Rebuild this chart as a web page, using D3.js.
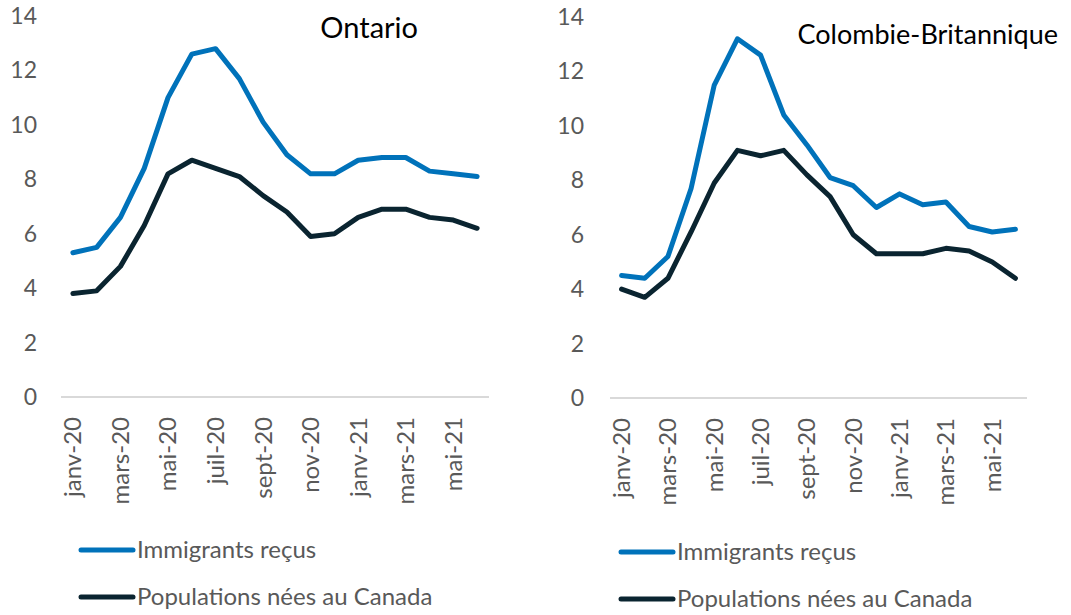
<!DOCTYPE html>
<html>
<head>
<meta charset="utf-8">
<script src="https://cdn.jsdelivr.net/npm/d3@7"></script>
<style>
  body { margin: 0; background: #fff; }
  svg text { font-family: Lato, "Open Sans", sans-serif; }
</style>
</head>
<body>
<svg id="chart" width="1071" height="615"></svg>
<script>
const months = ["janv-20", "févr-20", "mars-20", "avr-20", "mai-20", "juin-20", "juil-20", "août-20", "sept-20",
  "oct-20", "nov-20", "déc-20", "janv-21", "févr-21", "mars-21", "avr-21", "mai-21", "juin-21"];
const yTicks = [0, 2, 4, 6, 8, 10, 12, 14];
const seriesNames = ["Immigrants reçus", "Populations nées au Canada"];
const seriesColors = ["#0072BA", "#0A2430"];

const ontarioImmigrants = [5.3, 5.5, 6.6, 8.4, 11.0, 12.6, 12.8, 11.7, 10.1, 8.9, 8.2, 8.2, 8.7, 8.8, 8.8, 8.3, 8.2, 8.1];
const ontarioCanadaBorn = [3.8, 3.9, 4.8, 6.3, 8.2, 8.7, 8.4, 8.1, 7.4, 6.8, 5.9, 6.0, 6.6, 6.9, 6.9, 6.6, 6.5, 6.2];
const bcImmigrants = [4.5, 4.4, 5.2, 7.7, 11.5, 13.2, 12.6, 10.4, 9.3, 8.1, 7.8, 7.0, 7.5, 7.1, 7.2, 6.3, 6.1, 6.2];
const bcCanadaBorn = [4.0, 3.7, 4.4, 6.1, 7.9, 9.1, 8.9, 9.1, 8.2, 7.4, 6.0, 5.3, 5.3, 5.3, 5.5, 5.4, 5.0, 4.4];

const svg = d3.select("#chart");

function drawPanel(opts) {
  const g = svg.append("g");
  const x = d3.scaleBand().domain(months).range([opts.left, opts.right]);
  const y = d3.scaleLinear().domain([0, 14]).range([opts.bottom, opts.top]);

  // y labels, no axis line
  g.selectAll(".ylab")
    .data(yTicks)
    .enter().append("text")
    .attr("x", opts.labelX)
    .attr("y", d => y(d))
    .attr("dy", "0.35em")
    .attr("text-anchor", "end")
    .attr("font-size", 23)
    .attr("fill", "#595959")
    .text(d => d);

  // zero line
  g.append("line")
    .attr("x1", opts.left).attr("x2", opts.right)
    .attr("y1", y(0)).attr("y2", y(0))
    .attr("stroke", "#d9d9d9").attr("stroke-width", 2);

  // x labels every two months
  g.selectAll(".xlab")
    .data(months.filter((m, i) => i % 2 === 0))
    .enter().append("text")
    .attr("transform", d => "translate(" + (x(d) + x.bandwidth() / 2) + "," + (y(0) + 20) + ") rotate(-90)")
    .attr("dy", "0.35em")
    .attr("text-anchor", "end")
    .attr("font-size", 24)
    .attr("fill", "#595959")
    .text(d => d);

  const line = d3.line()
    .x((d, i) => x(months[i]) + x.bandwidth() / 2)
    .y(d => y(d));

  opts.series.forEach((s, i) => {
    g.append("path")
      .datum(s)
      .attr("fill", "none")
      .attr("stroke", seriesColors[i])
      .attr("stroke-width", 5)
      .attr("stroke-linejoin", "round")
      .attr("stroke-linecap", "round")
      .attr("d", line);
  });

  g.append("text")
    .attr("x", opts.titleX)
    .attr("y", opts.titleY)
    .attr("text-anchor", "end")
    .attr("font-size", opts.titleSize)
    .attr("fill", "#000")
    .text(opts.title);

  // legend
  seriesNames.forEach((name, i) => {
    const ly = opts.legendY + i * 47;
    g.append("line")
      .attr("x1", opts.legendX).attr("x2", opts.legendX + 52)
      .attr("y1", ly).attr("y2", ly)
      .attr("stroke", seriesColors[i]).attr("stroke-width", 5)
      .attr("stroke-linecap", "round");
    g.append("text")
      .attr("x", opts.legendX + 56)
      .attr("y", ly)
      .attr("dy", "0.35em")
      .attr("font-size", 24)
      .attr("fill", "#595959")
      .text(name);
  });
}

drawPanel({
  left: 61, right: 489, top: 16, bottom: 397, labelX: 37,
  series: [ontarioImmigrants, ontarioCanadaBorn],
  title: "Ontario", titleX: 418, titleY: 38, titleSize: 29,
  legendX: 81, legendY: 550
});

drawPanel({
  left: 610, right: 1027, top: 17, bottom: 398, labelX: 584,
  series: [bcImmigrants, bcCanadaBorn],
  title: "Colombie-Britannique", titleX: 1058, titleY: 44, titleSize: 27,
  legendX: 621, legendY: 552
});
</script>
</body>
</html>
